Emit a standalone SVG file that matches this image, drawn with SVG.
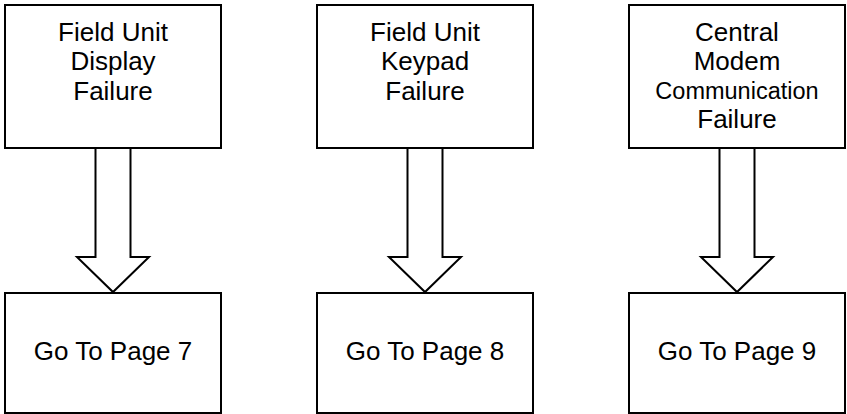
<svg xmlns="http://www.w3.org/2000/svg" width="847" height="414" viewBox="0 0 847 414">
<style>
.box{fill:#fff;stroke:#000;stroke-width:2}
.arr{fill:#fff;stroke:#000;stroke-width:2;stroke-linejoin:miter}
.t{font-family:"Liberation Sans",Arial,sans-serif;font-size:26px;fill:#000;text-anchor:middle}
.s{font-size:23.5px}
</style>
<rect width="847" height="414" fill="#fff"/>
<g id="connectors">
<path class="arr" d="M95.5,148 V257 H77 L113,292 L149,257 H130.5 V148"/>
<path class="arr" d="M407.5,148 V257 H389 L425,292 L461,257 H442.5 V148"/>
<path class="arr" d="M719.5,148 V257 H701 L737,292 L773,257 H754.5 V148"/>
</g>
<g id="n1">
<rect class="box" x="5" y="5" width="216" height="143"/>
<text class="t" x="113" y="40.5">Field Unit</text>
<text class="t" x="113" y="70">Display</text>
<text class="t" x="113" y="100">Failure</text>
</g>
<g id="n2">
<rect class="box" x="317" y="5" width="216" height="143"/>
<text class="t" x="425" y="40.5">Field Unit</text>
<text class="t" x="425" y="70">Keypad</text>
<text class="t" x="425" y="100">Failure</text>
</g>
<g id="n3">
<rect class="box" x="629" y="5" width="216" height="143"/>
<text class="t" x="737" y="40.5">Central</text>
<text class="t" x="737" y="70">Modem</text>
<text class="t s" x="737" y="98.5">Communication</text>
<text class="t" x="737" y="127.5">Failure</text>
</g>
<g id="n4">
<rect class="box" x="5" y="293" width="216" height="120"/>
<text class="t" x="113" y="359.5">Go To Page 7</text>
</g>
<g id="n5">
<rect class="box" x="317" y="293" width="216" height="120"/>
<text class="t" x="425" y="359.5">Go To Page 8</text>
</g>
<g id="n6">
<rect class="box" x="629" y="293" width="216" height="120"/>
<text class="t" x="737" y="359.5">Go To Page 9</text>
</g>
</svg>
